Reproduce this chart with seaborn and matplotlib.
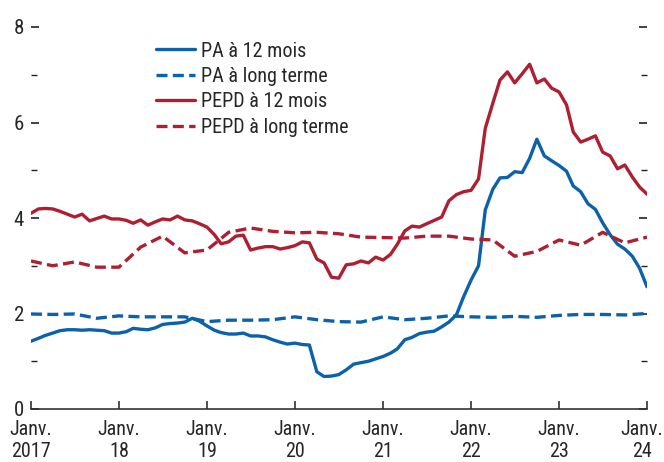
import numpy as np
import pandas as pd
import matplotlib
matplotlib.use("Agg")
import matplotlib.pyplot as plt
import matplotlib.transforms as mtransforms
from matplotlib import font_manager
import seaborn as sns
from matplotlib.ticker import MultipleLocator

# ---- data ----
months = pd.date_range("2017-01-01", "2024-01-01", freq="MS")
quarters = pd.date_range("2017-01-01", "2024-01-01", freq="QS")

pa_12 = [1.42, 1.48, 1.54, 1.59, 1.64, 1.66, 1.66, 1.65, 1.66, 1.65, 1.64, 1.59,
         1.59, 1.62, 1.69, 1.67, 1.66, 1.70, 1.77, 1.79, 1.80, 1.82, 1.90, 1.84,
         1.74, 1.65, 1.60, 1.57, 1.57, 1.59, 1.53, 1.53, 1.51, 1.45, 1.40, 1.36,
         1.38, 1.35, 1.34, 0.78, 0.68, 0.69, 0.72, 0.82, 0.94, 0.97, 1.00, 1.05,
         1.10, 1.17, 1.26, 1.45, 1.50, 1.58, 1.61, 1.63, 1.72, 1.82, 1.97, 2.35,
         2.70, 3.00, 4.17, 4.60, 4.84, 4.85, 4.97, 4.95, 5.25, 5.65, 5.30, 5.20,
         5.10, 4.98, 4.67, 4.55, 4.30, 4.18, 3.90, 3.65, 3.45, 3.35, 3.20, 2.95,
         2.56]

pepd_12 = [4.10, 4.19, 4.20, 4.19, 4.14, 4.08, 4.02, 4.08, 3.94, 3.99, 4.04, 3.98,
           3.98, 3.95, 3.89, 3.96, 3.85, 3.92, 3.98, 3.96, 4.04, 3.96, 3.94, 3.88,
           3.81, 3.65, 3.46, 3.50, 3.62, 3.64, 3.33, 3.37, 3.40, 3.40, 3.35, 3.38,
           3.42, 3.50, 3.48, 3.14, 3.06, 2.76, 2.74, 3.02, 3.04, 3.10, 3.06, 3.18,
           3.12, 3.24, 3.45, 3.73, 3.83, 3.81, 3.88, 3.95, 4.02, 4.36, 4.49, 4.55,
           4.58, 4.82, 5.88, 6.40, 6.89, 7.06, 6.83, 7.02, 7.22, 6.83, 6.91, 6.72,
           6.64, 6.37, 5.80, 5.59, 5.65, 5.72, 5.38, 5.30, 5.03, 5.11, 4.86, 4.65,
           4.50]

pa_long = [1.99, 1.98, 1.99, 1.90, 1.95, 1.93, 1.93, 1.93, 1.83, 1.86, 1.86, 1.87,
           1.93, 1.87, 1.83, 1.82, 1.93, 1.87, 1.90, 1.95, 1.93, 1.92, 1.94, 1.92,
           1.96, 1.98, 1.98, 1.97, 2.00]

pepd_long = [3.10, 3.00, 3.08, 2.97, 2.97, 3.39, 3.62, 3.27, 3.33, 3.70, 3.79, 3.72,
             3.69, 3.70, 3.67, 3.60, 3.59, 3.58, 3.62, 3.62, 3.56, 3.54, 3.20, 3.30,
             3.54, 3.43, 3.70, 3.48, 3.60]

labels = ["PA à 12 mois", "PA à long terme", "PEPD à 12 mois", "PEPD à long terme"]
year_labels = ["Janv.\n2017", "Janv.\n18", "Janv.\n19", "Janv.\n20",
               "Janv.\n21", "Janv.\n22", "Janv.\n23", "Janv.\n24"]

BLUE = "#0b62aa"
RED = "#ae1f31"

sns.set_style("white")
available = {f.name for f in font_manager.fontManager.ttflist}
fam = [f for f in ["Liberation Sans Narrow", "Roboto Condensed", "DejaVu Sans Condensed"]
       if f in available]
narrow = bool(fam)
plt.rcParams["font.family"] = fam + ["Liberation Sans", "DejaVu Sans"]
FS = 14.5 if narrow else 13.5

fig = plt.figure(figsize=(6.64, 4.62), dpi=100)
ax = fig.add_axes([31/664, 1 - 409/462, (647-31)/664, (409-27)/462])

lw = 2.4
dash = (0, (3.3, 1.6))
sns.lineplot(x=months, y=pa_12, ax=ax, color=BLUE, lw=lw, label=labels[0])
sns.lineplot(x=quarters, y=pa_long, ax=ax, color=BLUE, lw=lw, label=labels[1],
             linestyle=dash)
sns.lineplot(x=months, y=pepd_12, ax=ax, color=RED, lw=lw, label=labels[2])
sns.lineplot(x=quarters, y=pepd_long, ax=ax, color=RED, lw=lw, label=labels[3],
             linestyle=dash)

ax.set_xlim(months[0], months[-1])
ax.set_ylim(0, 8)
ax.set_xlabel("")
ax.set_ylabel("")

years = pd.date_range("2017-01-01", "2024-01-01", freq="YS")
ax.set_xticks(years)
ax.set_xticklabels(year_labels, fontsize=FS, linespacing=1.17)
ax.yaxis.set_major_locator(MultipleLocator(2))
ax.yaxis.set_minor_locator(MultipleLocator(1))
ax.tick_params(axis="y", which="major", direction="in", length=6, width=1.2,
               left=True, right=True, labelsize=FS + 0.5, pad=5, color="#222222")
ax.tick_params(axis="y", which="minor", direction="in", length=4, width=1.0,
               left=True, right=True, color="#222222")
ax.tick_params(axis="x", which="major", direction="in", length=6, width=1.2,
               bottom=True, labelsize=FS, pad=8, color="#333333")

# shift the last x label slightly left so it fits like the reference
last = ax.get_xticklabels()[-1]
last.set_transform(last.get_transform() +
                   mtransforms.ScaledTranslation(-5/100, 0, fig.dpi_scale_trans))

for s in ["left", "right", "top"]:
    ax.spines[s].set_visible(False)
ax.spines["bottom"].set_color("#333333")
ax.spines["bottom"].set_linewidth(1.2)

leg = ax.legend(loc="upper left", bbox_to_anchor=(0.203, 0.962), frameon=False,
                fontsize=FS, handlelength=1.95, handletextpad=0.3,
                labelspacing=0.32, borderaxespad=0, borderpad=0)

fig.savefig("out.png", dpi=100)
